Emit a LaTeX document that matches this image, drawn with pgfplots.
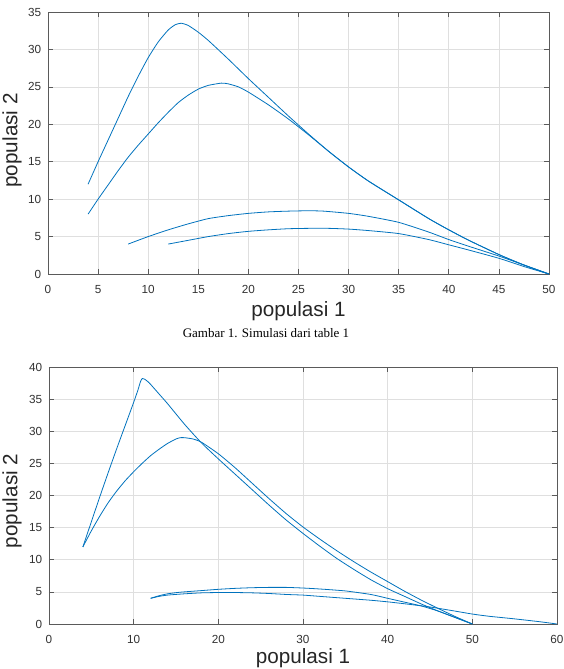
\documentclass[border=0pt]{standalone}
\usepackage{pgfplots}
\pgfplotsset{compat=1.18}
\usepackage{fontspec}
\setmainfont{Liberation Sans}
\newfontfamily\seriffont{Liberation Serif}
\definecolor{mblue}{RGB}{0,114,189}
\definecolor{gridc}{RGB}{223,223,223}
\definecolor{axc}{RGB}{90,90,90}
\definecolor{tickc}{RGB}{50,50,50}
\pgfplotscreateplotcyclelist{mcyc}{%
  mblue,line width=0.6pt,no marks,smooth,tension=0.35,line join=round\\%
}
\pgfplotsset{
  matlab/.style={
    scale only axis,
    anchor=south west,
    /pgf/number format/assume math mode=true,
    axis line style={axc, line width=0.6pt},
    major tick style={axc, line width=0.5pt},
    tick align=inside,
    major tick length=3.75pt,
    grid=major,
    major grid style={gridc, line width=0.5pt},
    ticklabel style={font=\fontsize{8.8}{10}\selectfont, text=tickc},
    xticklabel style={yshift=-5pt},
    yticklabel style={xshift=-1.6pt},
    label style={font=\fontsize{15.5}{18}\selectfont, text=black!85},
    cycle list name=mcyc,
  }
}
\begin{document}
\begin{tikzpicture}
\path[use as bounding box] (0,0) rectangle (423pt,-501.75pt);
% ---------- top plot ----------
\begin{axis}[matlab,
  at={(36pt,-205.5pt)},
  width=375.75pt, height=196.5pt,
  xmin=0, xmax=50, ymin=0, ymax=35,
  xtick={0,5,...,50}, ytick={0,5,...,35},
  xlabel={populasi 1}, ylabel={populasi 2},
  xlabel style={at={(axis description cs:0.5,-0.163)}, anchor=base},
  ylabel style={at={(axis description cs:-0.072,0.51)}, anchor=center},
]
\addplot coordinates {(4,12) (5,15) (6,17.9) (7,20.8) (8,23.7) (9,26.4) (10,28.9) (11,31) (12,32.6) (12.7,33.3) (13.3,33.5) (14,33.2) (15,32.3) (16,31.2) (18,28.7) (20,26.1) (22,23.6) (24,21.1) (26,18.7) (28,16.4) (30,14.3) (32,12.4) (35,9.9) (38,7.4) (40,5.9) (42,4.5) (45,2.6) (47.5,1.2) (50,0)};
\addplot coordinates {(4,8) (5,10) (6,11.9) (7,13.8) (8,15.6) (9,17.2) (10,18.7) (11,20.2) (12,21.6) (13,22.9) (14,23.9) (15,24.7) (16,25.2) (17.3,25.5) (18,25.4) (19,25) (20,24.3) (22,22.6) (24,20.7) (26,18.6) (28,16.4) (30,14.3) (32,12.4) (35,9.9) (38,7.4) (40,5.9) (42,4.5) (45,2.6) (47.5,1.2) (50,0)};
\addplot coordinates {(8,4) (10,5.0) (12,5.9) (14,6.7) (16,7.4) (18,7.8) (20,8.1) (22,8.3) (24,8.4) (26,8.45) (27.5,8.4) (30,8.1) (32,7.7) (35,6.9) (38,5.6) (40,4.6) (42,3.7) (45,2.4) (47.5,1.2) (50,0)};
\addplot coordinates {(12,4) (14,4.5) (16,5.0) (18,5.4) (20,5.7) (22,5.9) (24,6.05) (26,6.1) (28,6.1) (30,6.0) (32,5.8) (35,5.4) (38,4.6) (40,3.9) (42,3.2) (45,2.1) (47.5,1.0) (50,0)};
\end{axis}
\node[anchor=base, font=\seriffont\fontsize{9.75}{11}\selectfont] at (199.5pt,-252.75pt) {Gambar 1. Simulasi dari table 1};
% ---------- bottom plot ----------
\begin{axis}[matlab,
  at={(36.75pt,-468pt)},
  width=381pt, height=192.75pt,
  xmin=0, xmax=60, ymin=0, ymax=40,
  xtick={0,10,...,60}, ytick={0,5,...,40},
  xlabel={populasi 1}, ylabel={populasi 2},
  xlabel style={at={(axis description cs:0.5,-0.152)}, anchor=base},
  ylabel style={at={(axis description cs:-0.073,0.479)}, anchor=center},
]
\addplot coordinates {(4,12) (5,15.9) (6,19.8) (7,23.6) (8,27.3) (9,30.9) (10,34.5) (10.5,36.4) (10.8,37.7) (11,38.2) (11.3,38.1) (11.7,37.7) (12,37.3) (13,35.8) (14,34.3) (16,31.1) (18,28.2) (20,25.7) (22,23.3) (24,20.9) (26,18.5) (28,16.2) (30,14.1) (32,12.1) (34,10.2) (36,8.5) (38,6.9) (40,5.5) (42,4.3) (44,3.1) (46,2.0) (48,1) (50,0)};
\addplot coordinates {(4,12) (5,14.5) (6,16.8) (7,18.9) (8,20.7) (9,22.3) (10,23.7) (11,25) (12,26.2) (13,27.2) (14,28.1) (15,28.8) (15.5,29.0) (16,29.0) (17,28.8) (18,28.3) (20,26.5) (22,24.3) (24,21.9) (26,19.5) (28,17.2) (30,15.1) (32,13.2) (34,11.4) (36,9.7) (38,8.1) (40,6.6) (42,5.1) (44,3.7) (46,2.4) (48,1.15) (50,0)};
\addplot coordinates {(12,4) (13,4.4) (14,4.7) (15.5,4.95) (18,5.2) (20,5.4) (22,5.55) (24,5.65) (26,5.7) (28,5.7) (30,5.6) (32,5.45) (35,5.15) (38,4.6) (40,4.0) (42,3.4) (44,2.8) (46,2.0) (48,1.0) (50,0)};
\addplot coordinates {(12,4) (13,4.3) (14,4.5) (16,4.7) (18,4.85) (20,4.9) (22,4.9) (24,4.85) (26,4.75) (28,4.6) (30,4.5) (32,4.3) (35,4.0) (38,3.7) (40,3.45) (42,3.15) (45,2.65) (48,2.0) (50,1.55) (52,1.2) (55,0.8) (58,0.35) (60,0)};
\end{axis}
\end{tikzpicture}
\end{document}
